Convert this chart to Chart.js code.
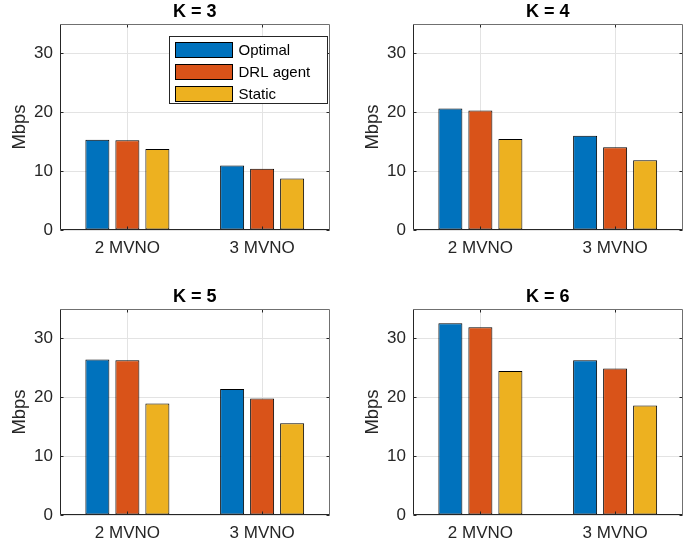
<!DOCTYPE html>
<html>
<head>
<meta charset="utf-8">
<script src="https://cdn.jsdelivr.net/npm/chart.js@4.4.1/dist/chart.umd.min.js"></script>
<style>
  html, body { margin: 0; padding: 0; background: #fff; }
  #wrap { position: relative; width: 696px; height: 546px; overflow: hidden; }
  #wrap canvas { position: absolute; width: 343px; height: 261px; }
</style>
</head>
<body>
<div id="wrap">
  <canvas id="k3" width="343" height="261" style="left:0;top:0"></canvas>
  <canvas id="k4" width="343" height="261" style="left:353px;top:0"></canvas>
  <canvas id="k5" width="343" height="261" style="left:0;top:285px"></canvas>
  <canvas id="k6" width="343" height="261" style="left:353px;top:285px"></canvas>
</div>
<script>
const categories = ['2 MVNO', '3 MVNO'];
const seriesNames = ['Optimal', 'DRL agent', 'Static'];
const seriesColors = ['#0072BD', '#D95319', '#EDB120'];
const yTicks = [0, 10, 20, 30];
const yMax = 35;

// Mbps, [2 MVNO, 3 MVNO]
const k3Optimal = [15.35, 10.95];
const k3Drl = [15.25, 10.4];
const k3Static = [13.75, 8.75];

const k4Optimal = [20.65, 16.0];
const k4Drl = [20.3, 14.05];
const k4Static = [15.45, 11.85];

const k5Optimal = [26.4, 21.4];
const k5Drl = [26.3, 19.8];
const k5Static = [18.95, 15.6];

const k6Optimal = [32.6, 26.3];
const k6Drl = [31.9, 24.9];
const k6Static = [24.45, 18.6];

const panels = [
  {id: 'k3', title: 'K = 3', values: [k3Optimal, k3Drl, k3Static], legend: true},
  {id: 'k4', title: 'K = 4', values: [k4Optimal, k4Drl, k4Static]},
  {id: 'k5', title: 'K = 5', values: [k5Optimal, k5Drl, k5Static]},
  {id: 'k6', title: 'K = 6', values: [k6Optimal, k6Drl, k6Static]}
];

Chart.defaults.font.family = "'Liberation Sans', Arial, Helvetica, sans-serif";
Chart.defaults.color = '#262626';

const gridColor = '#e3e3e3';
const axisColor = '#262626';

// matlab style box, inward ticks and the boxed legend
const matlabBox = {
  id: 'matlabBox',
  afterDatasetsDraw(chart, args, opts) {
    const {ctx, chartArea: a, scales: {x, y}} = chart;
    const l = Math.round(a.left) + 0.5, r = Math.round(a.right) - 0.5;
    const t = Math.round(a.top) + 0.5, b = Math.round(a.bottom) - 0.5;
    ctx.save();
    ctx.lineWidth = 1;
    ctx.strokeStyle = axisColor;
    ctx.beginPath();
    yTicks.forEach(v => {
      const py = Math.round(y.getPixelForValue(v)) + 0.5;
      ctx.moveTo(l, py); ctx.lineTo(l + 3, py);
      ctx.moveTo(r, py); ctx.lineTo(r - 3, py);
    });
    categories.forEach((c, i) => {
      const px = Math.round(x.getPixelForValue(i)) + 0.5;
      ctx.moveTo(px, b); ctx.lineTo(px, b - 3);
      ctx.moveTo(px, t); ctx.lineTo(px, t + 3);
    });
    ctx.stroke();

    ctx.strokeStyle = '#707070';
    ctx.beginPath();
    ctx.moveTo(l, t); ctx.lineTo(r, t); ctx.lineTo(r, b);
    ctx.stroke();
    ctx.strokeStyle = axisColor;
    ctx.beginPath();
    ctx.moveTo(l, t); ctx.lineTo(l, b); ctx.lineTo(r, b);
    ctx.stroke();

    if (opts.legend) {
      const bw = 158, bh = 67;
      const bx = Math.round(a.right - 3 - bw) + 0.5, by = Math.round(a.top + 11.7) + 0.5;
      ctx.fillStyle = '#fff';
      ctx.fillRect(bx, by, bw, bh);
      ctx.strokeStyle = axisColor;
      ctx.strokeRect(bx, by, bw, bh);
      ctx.font = "15px 'Liberation Sans', Arial, sans-serif";
      ctx.textBaseline = 'middle';
      chart.data.datasets.forEach((ds, i) => {
        const cy = by + 13.8 + i * 21.7;
        ctx.fillStyle = ds.backgroundColor;
        ctx.fillRect(bx + 6, Math.round(cy - 8), 57, 16);
        ctx.strokeStyle = '#000';
        ctx.strokeRect(bx + 6, Math.round(cy - 8) + 0.5, 57, 15);
        ctx.fillStyle = '#000';
        ctx.fillText(ds.label, bx + 69, cy + 1);
      });
    }
    ctx.restore();
  }
};

const renderPanel = (panel) => {
  new Chart(document.getElementById(panel.id), {
    type: 'bar',
    data: {
      labels: categories,
      datasets: panel.values.map((vals, i) => ({
        label: seriesNames[i],
        data: vals,
        backgroundColor: seriesColors[i],
        borderColor: '#000',
        borderWidth: 1,
        borderSkipped: false,
        categoryPercentage: 0.668,
        barPercentage: 0.8
      }))
    },
    options: {
      responsive: false,
      animation: false,
      events: [],
      layout: {padding: {left: 0, right: 13.5, top: 0, bottom: 0}},
      plugins: {
        legend: {display: false},
        tooltip: {enabled: false},
        title: {
          display: true,
          text: panel.title,
          fullSize: false,
          color: '#000',
          font: {size: 18, weight: 'bold', lineHeight: 1},
          padding: {top: 2.7, bottom: 3.3}
        },
        matlabBox: {legend: !!panel.legend}
      },
      scales: {
        x: {
          grid: {color: gridColor, offset: false, drawTicks: false},
          border: {display: false},
          ticks: {font: {size: 17}, padding: 8, maxRotation: 0, color: axisColor},
          afterFit: s => { s.height = 31; }
        },
        y: {
          min: 0,
          max: yMax,
          grid: {color: gridColor, drawTicks: false},
          border: {display: false},
          ticks: {font: {size: 17}, padding: 7, color: axisColor},
          afterBuildTicks: s => { s.ticks = yTicks.map(v => ({value: v})); },
          title: {display: true, text: 'Mbps', font: {size: 18.5}, padding: {top: 9, bottom: 0}, color: axisColor},
          afterFit: s => { s.width = 60; }
        }
      }
    },
    plugins: [matlabBox]
  });
}

panels.forEach(renderPanel);
</script>
</body>
</html>
